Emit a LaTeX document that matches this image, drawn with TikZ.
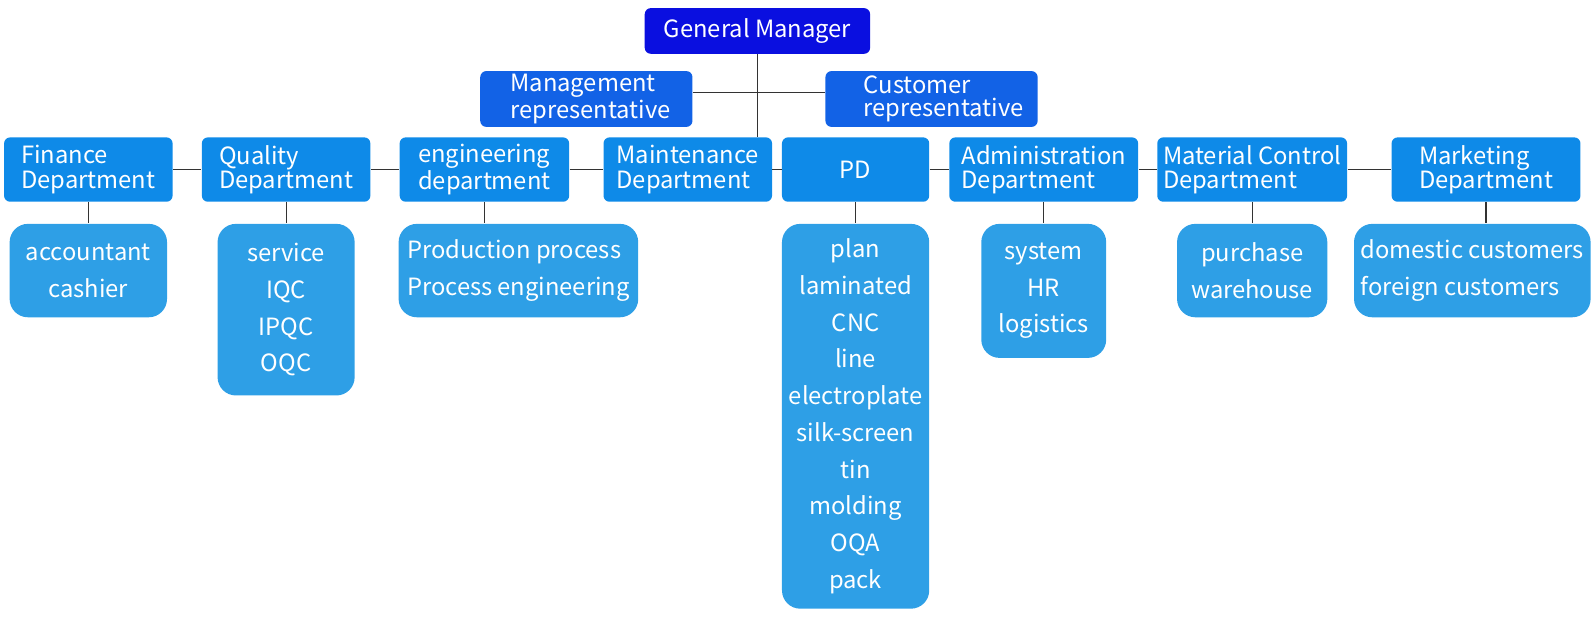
\documentclass[tikz,border=0pt]{standalone}
\usepackage{fontspec}
\setmainfont{Noto Sans CJK SC}
\usetikzlibrary{positioning}
\definecolor{gmblue}{HTML}{0A0FE0}
\definecolor{repblue}{HTML}{1262E6}
\definecolor{deptblue}{HTML}{0E8AE8}
\definecolor{subblue}{HTML}{2E9FE6}
\definecolor{linegray}{HTML}{333333}

\begin{document}
\begin{tikzpicture}[x=0.5pt,y=-0.5pt,
    box/.style={rounded corners=3pt,text=white,inner sep=0pt,font=\fontsize{11.7}{12}\selectfont},
    dept/.style={box,fill=deptblue,minimum height=31.7pt,align=left},
    rep/.style={box,fill=repblue,minimum width=104.5pt,minimum height=27.5pt,align=left,font=\fontsize{11.7}{11.5}\selectfont},
    sub/.style={box,fill=subblue,rounded corners=9pt,align=center,font=\fontsize{11.7}{18.1}\selectfont},
    link/.style={draw=linegray,line width=0.6pt}]
  \useasboundingbox (0,0) rectangle (1568,615);
  % top
  \node[box,fill=gmblue,minimum width=111pt,minimum height=22.5pt] (gm) at (746,30.5) {General Manager};
  \node[rep] (mgmt) at (577.5,97.5) {\hspace*{4pt}Management\\\hspace*{4pt}representative};
  \node[rep] (cust) at (917.5,97.5) {\hspace*{12pt}Customer\\\hspace*{12pt}representative};
  % departments
  \node[dept,minimum width=83pt] (fin) at (87,167) {Finance\\Department};
  \node[dept,minimum width=83pt,right=14pt of fin] (qual) {Quality\\Department};
  \node[dept,minimum width=83.5pt,right=14pt of qual] (eng) {engineering\\department};
  \node[dept,minimum width=83pt,right=16.5pt of eng] (maint) {Maintenance\\Department};
  \node[dept,minimum width=72.5pt,right=4.5pt of maint] (pd) {PD};
  \node[dept,minimum width=93pt,right=9.5pt of pd] (adm) {Administration\\Department};
  \node[dept,minimum width=93.5pt,right=9pt of adm] (mat) {Material Control\\Department};
  \node[dept,minimum width=93pt,right=21.5pt of mat] (mkt) {Marketing\\Department};
  % sections
  \node[sub,minimum width=77.5pt,minimum height=46pt,below=10.5pt of fin] (fin-s) {accountant\\cashier};
  \node[sub,minimum width=67.5pt,minimum height=84.5pt,below=10.5pt of qual] (qual-s) {service\\IQC\\IPQC\\OQC};
  \node[sub,minimum width=118pt,minimum height=46pt,align=left,below=10.5pt of eng.south west,anchor=north west,xshift=-0.5pt] (eng-s) {Production process\\Process engineering};
  \node[sub,minimum width=72.5pt,minimum height=189.5pt,below=10.5pt of pd] (pd-s) {plan\\laminated\\CNC\\line\\electroplate\\silk-screen\\tin\\molding\\OQA\\pack};
  \node[sub,minimum width=61.5pt,minimum height=66pt,below=10.5pt of adm] (adm-s) {system\\HR\\logistics};
  \node[sub,minimum width=74pt,minimum height=46pt,below=10.5pt of mat] (mat-s) {purchase\\warehouse};
  \node[sub,minimum width=116.5pt,minimum height=46pt,align=left,below=10.5pt of mkt.south west,anchor=north west,xshift=-18.5pt] (mkt-s) {domestic customers\\foreign customers};
  % lines
  \draw[link] (gm) -- (gm |- maint.north);
  \draw[link] ([yshift=3.25pt]mgmt.east) -- ([yshift=3.25pt]cust.west);
  \foreach \a/\b in {fin/qual,qual/eng,eng/maint,maint/pd,pd/adm,adm/mat,mat/mkt}
    \draw[link] (\a) -- (\b);
  \foreach \a in {fin,qual,eng,pd,adm,mat,mkt}
    \draw[link] (\a) -- (\a |- \a-s.north);
\end{tikzpicture}
\end{document}
